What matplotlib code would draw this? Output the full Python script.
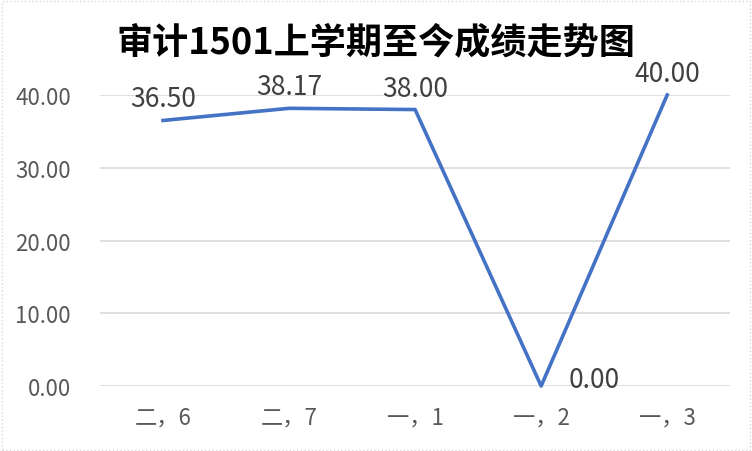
import matplotlib
matplotlib.use("Agg")
import matplotlib.pyplot as plt
from matplotlib.patches import Rectangle

plt.rcParams['font.family'] = ['Noto Sans CJK SC', 'DejaVu Sans']

title = "审计1501上学期至今成绩走势图"
categories = ["二，6", "二，7", "一，1", "一，2", "一，3"]
scores = [36.50, 38.17, 38.00, 0.00, 40.00]
yticks = [0, 10, 20, 30, 40]

fig = plt.figure(figsize=(7.52, 4.52), dpi=100)
ax = fig.add_axes([0.133, 0.1438, 0.838, 0.6438])

x = list(range(len(categories)))
ax.plot(x, scores, color="#4472C4", linewidth=2.6, solid_joinstyle="round", zorder=3, clip_on=False)

ax.set_xlim(-0.5, len(categories) - 0.5)
ax.set_ylim(0, 40)
ax.set_yticks(yticks)
ax.set_yticklabels([f"{v:.2f}" for v in yticks], color="#595959", fontsize=16)
ax.set_xticks(x)
ax.set_xticklabels(categories, color="#595959", fontsize=16)
ax.tick_params(axis="both", length=0)
ax.tick_params(axis="y", pad=21)
ax.tick_params(axis="x", pad=14)
ax.grid(axis="y", color="#D9D9D9", linewidth=1.2)
ax.set_axisbelow(True)
for s in ax.spines.values():
    s.set_visible(False)

for i, v in enumerate(scores):
    if v == 0:
        ax.annotate(f"{v:.2f}", (i, v), xytext=(19.5, 5), textcoords="offset points",
                    ha="left", va="center", fontsize=19, color="#404040")
    else:
        ax.annotate(f"{v:.2f}", (i, v), xytext=(0, 15.5), textcoords="offset points",
                    ha="center", va="center", fontsize=19, color="#404040")

fig.text(0.5, 0.905, title, ha="center", va="center", fontsize=26, fontweight="bold", color="#000000")

fig.patches.append(Rectangle((0.002, 0.003), 0.995, 0.993, transform=fig.transFigure,
                             fill=False, edgecolor="#D9D9D9", linewidth=1.0, linestyle=":"))

fig.savefig("out.png", dpi=100)
